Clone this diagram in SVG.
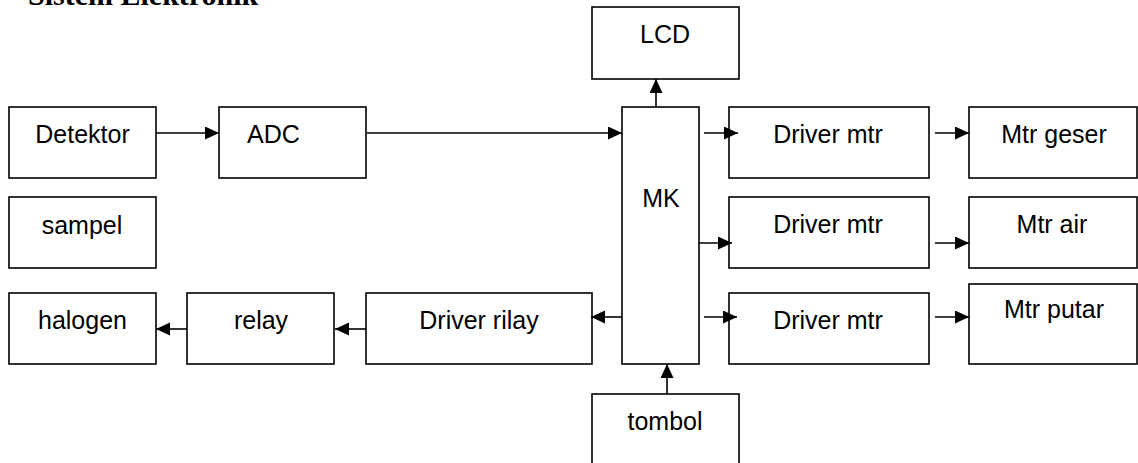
<svg xmlns="http://www.w3.org/2000/svg" width="1138" height="463" viewBox="0 0 1138 463">
<style>
.box{fill:#fff;stroke:#000;stroke-width:1.6}
.lbl{font-family:"Liberation Sans",Arial,sans-serif;font-size:25px;fill:#000;text-anchor:middle}
.conn line{stroke:#000;stroke-width:1.6;marker-end:url(#ah)}
.title{font-family:"Liberation Serif","Times New Roman",serif;font-weight:bold;font-size:30px;fill:#000}
</style>
<defs>
<marker id="ah" markerUnits="userSpaceOnUse" markerWidth="15" markerHeight="14" refX="14" refY="6.5" orient="auto">
<path d="M0,0 L14,6.5 L0,13 z" fill="#000"/>
</marker>
</defs>
<rect width="1138" height="463" fill="#fff"/>
<text class="title" x="28" y="5">Sistem Elektronik</text>
<g id="detektor"><rect class="box" x="9" y="107" width="147" height="71"/><text class="lbl" x="82.5" y="143">Detektor</text></g>
<g id="adc"><rect class="box" x="219" y="107" width="147" height="71"/><text class="lbl" x="247" y="143" style="text-anchor:start">ADC</text></g>
<g id="lcd"><rect class="box" x="592" y="7" width="147" height="72"/><text class="lbl" x="665" y="43">LCD</text></g>
<g id="mk"><rect class="box" x="622" y="107" width="77" height="257"/><text class="lbl" x="661" y="207">MK</text></g>
<g id="driver1"><rect class="box" x="729" y="107" width="200" height="71"/><text class="lbl" x="828" y="143">Driver mtr</text></g>
<g id="driver2"><rect class="box" x="729" y="197" width="200" height="71"/><text class="lbl" x="828" y="233">Driver mtr</text></g>
<g id="driver3"><rect class="box" x="729" y="293" width="200" height="71"/><text class="lbl" x="828" y="329">Driver mtr</text></g>
<g id="mtrgeser"><rect class="box" x="969" y="107" width="168" height="71"/><text class="lbl" x="1054" y="143">Mtr geser</text></g>
<g id="mtrair"><rect class="box" x="969" y="197" width="168" height="71"/><text class="lbl" x="1052" y="233">Mtr air</text></g>
<g id="mtrputar"><rect class="box" x="969" y="284" width="168" height="80"/><text class="lbl" x="1054" y="318">Mtr putar</text></g>
<g id="sampel"><rect class="box" x="9" y="197" width="147" height="71"/><text class="lbl" x="82" y="234">sampel</text></g>
<g id="halogen"><rect class="box" x="9" y="293" width="147" height="71"/><text class="lbl" x="82.5" y="329">halogen</text></g>
<g id="relay"><rect class="box" x="187" y="293" width="147" height="71"/><text class="lbl" x="261" y="329">relay</text></g>
<g id="driverrilay"><rect class="box" x="366" y="293" width="226" height="71"/><text class="lbl" x="479" y="329">Driver rilay</text></g>
<g id="tombol"><rect class="box" x="592" y="394" width="147" height="80"/><text class="lbl" x="665" y="430">tombol</text></g>
<g id="connectors" class="conn">
<line x1="156" y1="133" x2="219" y2="133"/>
<line x1="367" y1="133" x2="622" y2="133"/>
<line x1="656" y1="107" x2="656" y2="79"/>
<line x1="704" y1="133" x2="738" y2="133"/>
<line x1="699" y1="243" x2="732" y2="243"/>
<line x1="704" y1="317" x2="737" y2="317"/>
<line x1="935" y1="133" x2="969" y2="133"/>
<line x1="935" y1="243" x2="969" y2="243"/>
<line x1="935" y1="317" x2="969" y2="317"/>
<line x1="622" y1="317" x2="591" y2="317"/>
<line x1="366" y1="329" x2="335" y2="329"/>
<line x1="187" y1="329" x2="156" y2="329"/>
<line x1="667" y1="394" x2="667" y2="364"/>
</g>
</svg>
